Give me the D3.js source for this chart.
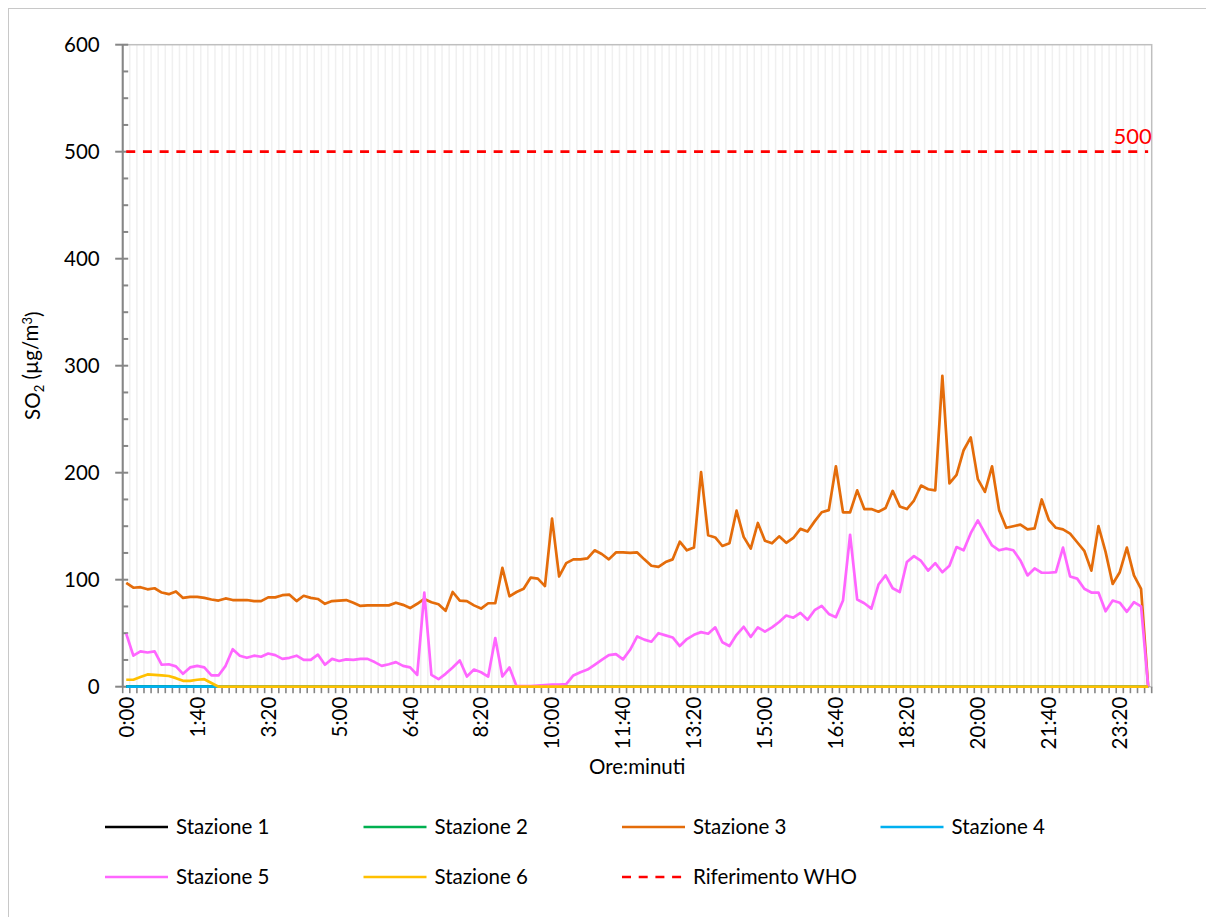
<!DOCTYPE html>
<html>
<head>
<meta charset="utf-8">
<script src="https://cdn.jsdelivr.net/npm/d3@7"></script>
<style>
  body { margin: 0; background: #fff; }
  text { font-family: Lato, "Open Sans", sans-serif; fill: #000; }
</style>
</head>
<body>
<svg id="chart"></svg>
<script>
const WIDTH = 1206;
const HEIGHT = 917;
const PLOT = {left: 122.7, right: 1151.7, top: 44.7, bottom: 686.7};

// categories: one every 10 minutes
const times = (
  "0:00 0:10 0:20 0:30 0:40 0:50 1:00 1:10 1:20 1:30 1:40 1:50 " +
  "2:00 2:10 2:20 2:30 2:40 2:50 3:00 3:10 3:20 3:30 3:40 3:50 " +
  "4:00 4:10 4:20 4:30 4:40 4:50 5:00 5:10 5:20 5:30 5:40 5:50 " +
  "6:00 6:10 6:20 6:30 6:40 6:50 7:00 7:10 7:20 7:30 7:40 7:50 " +
  "8:00 8:10 8:20 8:30 8:40 8:50 9:00 9:10 9:20 9:30 9:40 9:50 " +
  "10:00 10:10 10:20 10:30 10:40 10:50 11:00 11:10 11:20 11:30 11:40 11:50 " +
  "12:00 12:10 12:20 12:30 12:40 12:50 13:00 13:10 13:20 13:30 13:40 13:50 " +
  "14:00 14:10 14:20 14:30 14:40 14:50 15:00 15:10 15:20 15:30 15:40 15:50 " +
  "16:00 16:10 16:20 16:30 16:40 16:50 17:00 17:10 17:20 17:30 17:40 17:50 " +
  "18:00 18:10 18:20 18:30 18:40 18:50 19:00 19:10 19:20 19:30 19:40 19:50 " +
  "20:00 20:10 20:20 20:30 20:40 20:50 21:00 21:10 21:20 21:30 21:40 21:50 " +
  "22:00 22:10 22:20 22:30 22:40 22:50 23:00 23:10 23:20 23:30 23:40 23:50 24:00"
).split(" ");

const yTicks = [0, 100, 200, 300, 400, 500, 600];

const stazione1 = [
  0,0,0,0,0,0,0,0,0,0,0,0, 0,0,0,0,0,0,0,0,0,0,0,0, 0,0,0,0,0,0,0,0,0,0,0,0,
  0,0,0,0,0,0,0,0,0,0,0,0, 0,0,0,0,0,0,0,0,0,0,0,0, 0,0,0,0,0,0,0,0,0,0,0,0,
  0,0,0,0,0,0,0,0,0,0,0,0, 0,0,0,0,0,0,0,0,0,0,0,0, 0,0,0,0,0,0,0,0,0,0,0,0,
  0,0,0,0,0,0,0,0,0,0,0,0, 0,0,0,0,0,0,0,0,0,0,0,0, 0,0,0,0,0,0,0,0,0,0,0,0, 0
];
const stazione2 = stazione1.slice();
const stazione4 = stazione1.slice();

const stazione3 = [
  97, 92.5, 93, 91, 92, 88, 86.5, 89, 83, 84, 84, 83,
  81.5, 80.5, 82.5, 81, 81, 81, 80, 80, 83.5, 83.5, 85.5, 86,
  80, 85, 83, 82, 77.5, 80, 80.5, 81, 78.5, 75.5, 76, 76,
  76, 76, 78.5, 76.5, 73.5, 77.5, 82, 79, 77, 71, 88.5, 80.5,
  80, 76, 73, 78, 78, 111, 84.5, 88.5, 91.5, 102, 101, 94,
  157, 103, 115.5, 119, 119, 120, 127.5, 124, 119, 125.5, 125.5, 125,
  125.5, 119, 113, 112, 116.5, 119, 135.5, 127.5, 130, 200.5, 141.5, 139.5,
  131.5, 134, 164.5, 140, 129, 153, 136.5, 134, 140.5, 134.5, 139, 147.5,
  145, 154.5, 163, 165, 206, 163, 163, 183.5, 166, 166, 163.5, 167,
  183, 168.5, 166, 174, 188, 184.5, 183.5, 290.5, 190, 198, 221, 233,
  194, 182, 206, 165, 148.5, 150, 151.5, 147, 148, 175, 156, 148.5,
  147, 143, 135, 127, 108.5, 150, 126, 96, 107, 130, 104, 91.5, 0
];

const stazione5 = [
  49.5, 29, 33, 32, 33, 20.5, 21, 19, 12, 18, 19.5, 18,
  10.5, 10.5, 19.5, 35, 29, 27, 29, 28, 31, 29.5, 26, 27,
  29, 25, 25, 30, 20.5, 26, 24, 25.5, 25, 26, 26, 23,
  19.5, 21, 23, 19.5, 18, 11, 88, 11, 7, 12, 18, 24.5,
  9.5, 16, 13.5, 9.5, 45.5, 9.5, 18, 0.5, 0.5, 0.5, 1, 1.5,
  2, 2, 2.5, 10.5, 13.5, 16, 20.5, 25, 29.5, 30.5, 25.5, 34.5,
  47, 44, 42, 50, 48, 46, 38, 44.5, 48.5, 51, 49.5, 55.5,
  41.5, 38, 48.5, 56, 46.5, 55.5, 51.5, 55.5, 60.5, 66.5, 64.5, 69,
  62.5, 71.5, 75.5, 68, 65, 80.5, 142, 81.5, 78, 73, 95.5, 104,
  92, 88.5, 116.5, 122, 117.5, 108.5, 115.5, 107, 113, 130.5, 127.5, 143.5,
  155.5, 143.5, 132, 127.5, 129, 127.5, 118, 104, 110.5, 106.5, 106.5, 107,
  130, 103, 101, 91.5, 88, 88, 70.5, 80.5, 78.5, 70, 79, 75, 0
];

const stazione6 = [
  6.5, 6.5, 9, 11.5, 11, 10.5, 10, 8, 5.5, 5.5, 6.5, 7,
  3.5, 0, 0, 0, 0, 0, 0, 0, 0, 0, 0, 0, 0,0,0,0,0,0,0,0,0,0,0,0,
  0,0,0,0,0,0,0,0,0,0,0,0, 0,0,0,0,0,0,0,0,0,0,0,0, 0,0,0,0,0,0,0,0,0,0,0,0,
  0,0,0,0,0,0,0,0,0,0,0,0, 0,0,0,0,0,0,0,0,0,0,0,0, 0,0,0,0,0,0,0,0,0,0,0,0,
  0,0,0,0,0,0,0,0,0,0,0,0, 0,0,0,0,0,0,0,0,0,0,0,0, 0,0,0,0,0,0,0,0,0,0,0,0, 0
];

const whoLimit = 500;

const seriesNames = ["Stazione 1", "Stazione 2", "Stazione 3", "Stazione 4", "Stazione 5", "Stazione 6"];
const seriesValues = [stazione1, stazione2, stazione3, stazione4, stazione5, stazione6];
const whoName = "Riferimento WHO";

const color = d3.scaleOrdinal()
  .domain(seriesNames.concat([whoName]))
  .range(["#000000", "#00b050", "#e46c0a", "#00b0f0", "#ff66ff", "#ffc000", "#ff0000"]);

const svg = d3.select("#chart")
  .attr("width", WIDTH)
  .attr("height", HEIGHT);

svg.append("rect")
  .attr("width", WIDTH).attr("height", HEIGHT)
  .attr("fill", "#fff");

// chart border (only left and top inside the picture)
svg.append("rect")
  .attr("x", 8.5).attr("y", 8.5)
  .attr("width", WIDTH).attr("height", HEIGHT)
  .attr("fill", "none")
  .attr("stroke", "#c8c8c8")
  .attr("stroke-width", 1);

const x = d3.scaleBand()
  .domain(times)
  .range([PLOT.left, PLOT.right])
  .paddingInner(0).paddingOuter(0);

const y = d3.scaleLinear()
  .domain([0, 600])
  .range([PLOT.bottom, PLOT.top]);

const cx = t => x(t) + x.bandwidth() / 2;

// vertical gridlines at category boundaries
svg.append("g")
  .selectAll("line")
  .data(times.slice(1))
  .enter()
  .append("line")
  .attr("x1", d => x(d)).attr("x2", d => x(d))
  .attr("y1", PLOT.top).attr("y2", PLOT.bottom)
  .attr("stroke", "#f0f0f0")
  .attr("stroke-width", 1.5);

// plot area border
svg.append("rect")
  .attr("x", PLOT.left).attr("y", PLOT.top)
  .attr("width", PLOT.right - PLOT.left)
  .attr("height", PLOT.bottom - PLOT.top)
  .attr("fill", "none")
  .attr("stroke", "#bfbfbf")
  .attr("stroke-width", 1.5);

// y axis
const yAxis = svg.append("g");
yAxis.append("line")
  .attr("x1", PLOT.left).attr("x2", PLOT.left)
  .attr("y1", PLOT.top).attr("y2", PLOT.bottom)
  .attr("stroke", "#868686").attr("stroke-width", 2);

yAxis.selectAll("line.minor")
  .data(d3.range(0, 600, 25).filter(v => v % 100 !== 0))
  .enter()
  .append("line")
  .attr("class", "minor")
  .attr("x1", PLOT.left).attr("x2", PLOT.left + 5.5)
  .attr("y1", d => y(d)).attr("y2", d => y(d))
  .attr("stroke", "#868686").attr("stroke-width", 2);

yAxis.selectAll("line.major")
  .data(yTicks)
  .enter()
  .append("line")
  .attr("class", "major")
  .attr("x1", PLOT.left - 7.5).attr("x2", PLOT.left + 5.5)
  .attr("y1", d => y(d)).attr("y2", d => y(d))
  .attr("stroke", "#868686").attr("stroke-width", 2);

yAxis.selectAll("text")
  .data(yTicks)
  .enter()
  .append("text")
  .attr("x", PLOT.left - 23)
  .attr("y", d => y(d))
  .attr("dy", "0.36em")
  .attr("text-anchor", "end")
  .style("font-size", "20.5px")
  .text(d => d);

// x axis ticks and labels
const xAxis = svg.append("g");
xAxis.selectAll("line")
  .data(times.concat(["end"]))
  .enter()
  .append("line")
  .attr("x1", (d, i) => PLOT.left + i * x.bandwidth())
  .attr("x2", (d, i) => PLOT.left + i * x.bandwidth())
  .attr("y1", PLOT.bottom).attr("y2", PLOT.bottom + 6.5)
  .attr("stroke", "#868686").attr("stroke-width", 1.6);

xAxis.selectAll("text")
  .data(times.filter((d, i) => i % 10 === 0))
  .enter()
  .append("text")
  .attr("transform", d => `translate(${cx(d)},${PLOT.bottom + 10}) rotate(-90)`)
  .attr("dy", "0.36em")
  .attr("text-anchor", "end")
  .style("font-size", "20.5px")
  .text(d => d);

// axis titles
svg.append("text")
  .attr("x", (PLOT.left + PLOT.right) / 2)
  .attr("y", 774)
  .attr("text-anchor", "middle")
  .style("font-size", "20.5px")
  .text("Ore:minuti");

const yTitle = svg.append("text")
  .attr("transform", `translate(40,${(PLOT.top + PLOT.bottom) / 2}) rotate(-90)`)
  .attr("text-anchor", "middle")
  .style("font-size", "20.5px");
yTitle.append("tspan").text("SO");
yTitle.append("tspan").attr("dy", "0.3em").style("font-size", "13px").text("2");
yTitle.append("tspan").attr("dy", "-0.3em").text(" (µg/m");
yTitle.append("tspan").attr("dy", "-0.45em").style("font-size", "13px").text("3");
yTitle.append("tspan").attr("dy", "0.45em").text(")");

// data lines
const line = d3.line()
  .x((d, i) => cx(times[i]))
  .y(d => y(d));

svg.append("g")
  .selectAll("path")
  .data(seriesNames)
  .enter()
  .append("path")
  .attr("d", (d, k) => line(seriesValues[k]))
  .attr("fill", "none")
  .attr("stroke", d => color(d))
  .attr("stroke-width", 2.7)
  .attr("stroke-linejoin", "round");

// WHO reference
svg.append("line")
  .attr("x1", cx(times[0])).attr("x2", cx(times[times.length - 1]))
  .attr("y1", y(whoLimit)).attr("y2", y(whoLimit))
  .attr("stroke", color(whoName))
  .attr("stroke-width", 2.7)
  .attr("stroke-dasharray", "9,7.7");

svg.append("text")
  .attr("x", PLOT.right)
  .attr("y", y(whoLimit) - 8)
  .attr("text-anchor", "end")
  .style("font-size", "22px")
  .style("fill", "#ff0000")
  .text(whoLimit);

// legend
const legendItems = seriesNames.concat([whoName]);
const legend = svg.append("g")
  .selectAll("g")
  .data(legendItems)
  .enter()
  .append("g")
  .attr("transform", (d, i) => `translate(${105 + (i % 4) * 258.5},${827 + Math.floor(i / 4) * 50})`);

legend.append("line")
  .attr("x1", 0).attr("x2", 63)
  .attr("stroke", d => color(d))
  .attr("stroke-width", 2.7)
  .attr("stroke-dasharray", d => d === whoName ? "9,7.7" : null);

legend.append("text")
  .attr("x", 71)
  .attr("dy", "0.36em")
  .style("font-size", "20.5px")
  .text(d => d);
</script>
</body>
</html>
